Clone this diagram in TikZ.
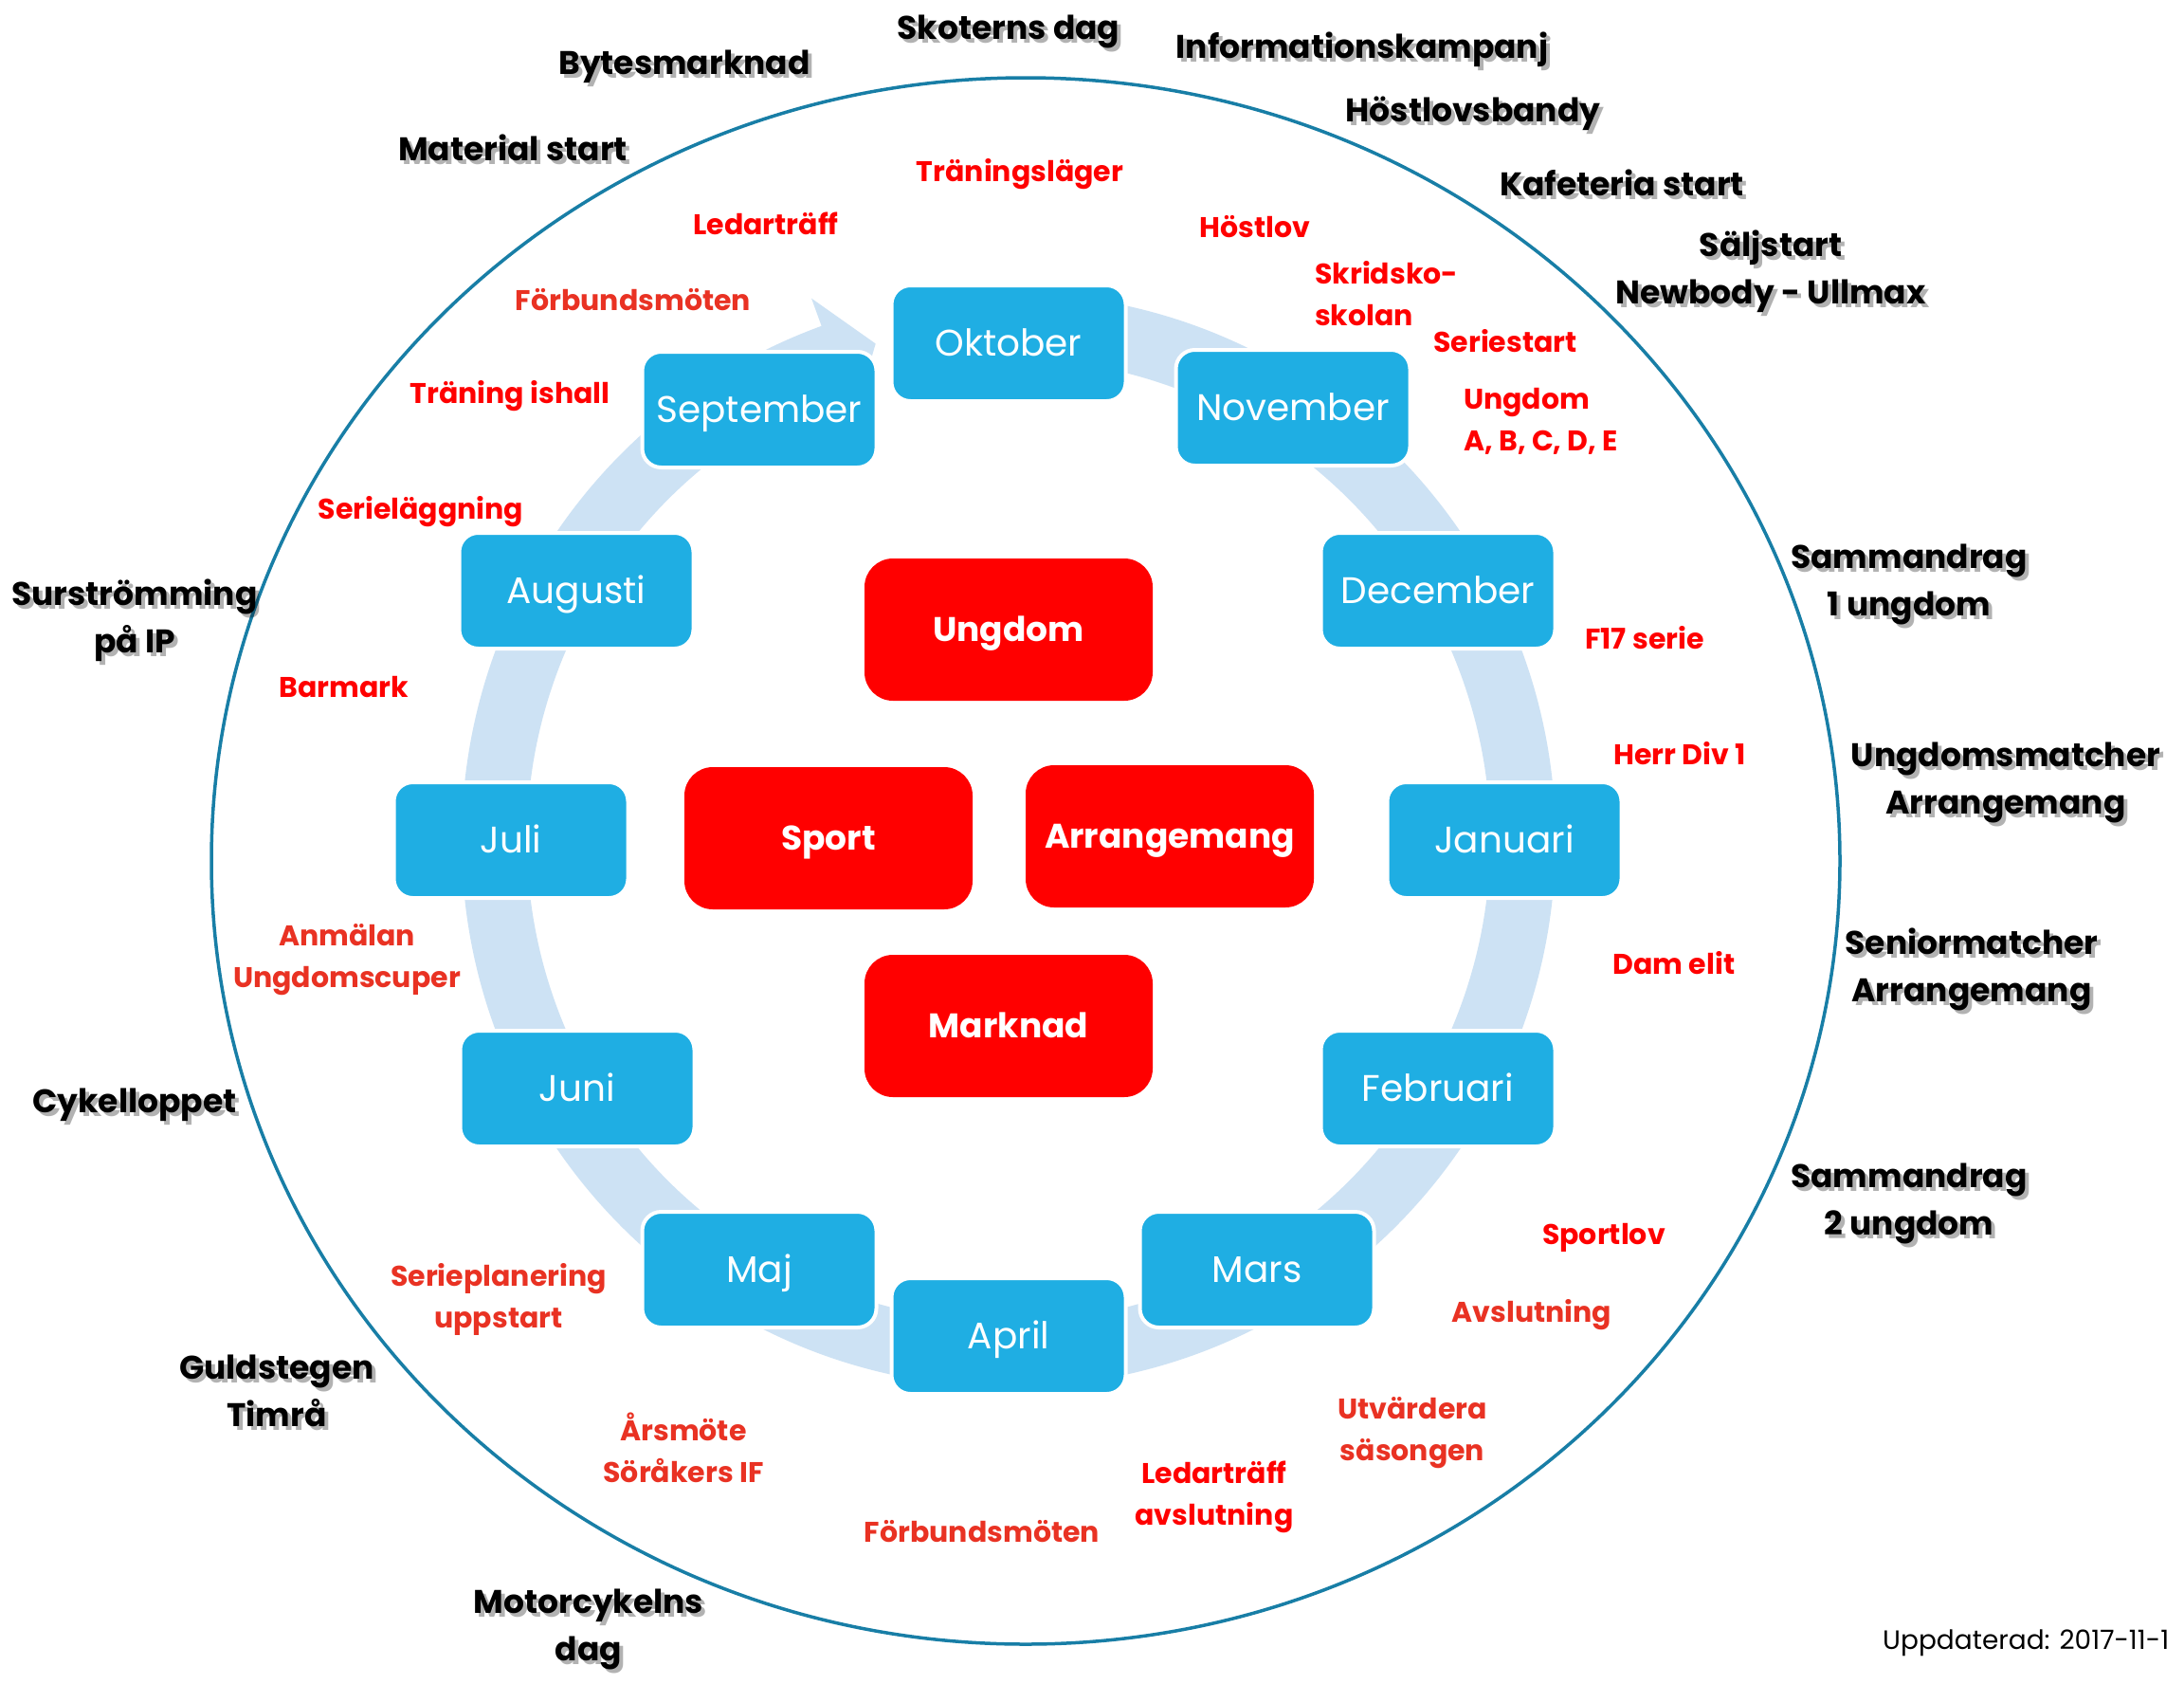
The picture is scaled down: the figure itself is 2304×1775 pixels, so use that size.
\documentclass[tikz,border=0pt]{standalone}
\usepackage{fontspec}
\setmainfont{Poppins}
\definecolor{mblue}{RGB}{31,174,227}
\definecolor{ringc}{RGB}{205,226,244}
\definecolor{ecol}{RGB}{24,126,166}
\definecolor{ored}{RGB}{233,50,35}
\definecolor{pred}{RGB}{255,0,0}
\newcommand\blabel[3]{%
  \node[blab,shad] at (#2) {#3};
  \node[blab] (#1) at (#2) {#3};}
\begin{document}
\begin{tikzpicture}[x=1pt,y=-1pt,
  month/.style={fill=mblue, draw=white, line width=4pt, rounded corners=20pt,
    minimum width=247pt, minimum height=122pt, inner sep=0pt, text=white,
    text height=27pt, text depth=0pt,
    font=\fontsize{39}{46}\selectfont},
  cat/.style={fill=pred, rounded corners=30pt, minimum width=304pt,
    minimum height=150pt, inner sep=0pt, text=white,
    text height=25pt, text depth=0pt,
    font=\fontsize{36}{42}\selectfont\bfseries},
  blab/.style={font=\fontsize{34.5}{50}\selectfont\bfseries, align=center, text=black, inner sep=0pt},
  shad/.style={text=black, opacity=0.3, xshift=4pt, yshift=-4pt},
  rlab/.style={font=\fontsize{30}{44}\selectfont\bfseries, align=center, text=pred, inner sep=0pt},
  olab/.style={rlab, text=ored},
]
\useasboundingbox (0,0) rectangle (2304,1775);
\fill[white] (0,0) rectangle (2304,1775);

% outer ellipse
\draw[ecol, line width=3.5pt] (1082,908) ellipse [x radius=859, y radius=826];

% cycle ring with arrow head
\begin{scope}[shift={(1064,886)}]
\fill[ringc] (-88:577) arc[start angle=-88, end angle=250, radius=577]
  -- (250:608) -- (255:542) -- (250:476) -- (250:508)
  arc[start angle=250, end angle=-88, radius=508] -- cycle;
\end{scope}

% months
\node[month] (okt) at (1064,362) {Oktober};
\node[month] (sep) at (801,432) {September};
\node[month] (nov) at (1364,430) {November};
\node[month] (aug) at (608,623) {Augusti};
\node[month] (dec) at (1517,623) {December};
\node[month] (jul) at (539,886) {Juli};
\node[month] (jan) at (1587,886) {Januari};
\node[month] (jun) at (609,1148) {Juni};
\node[month] (feb) at (1517,1148) {Februari};
\node[month] (maj) at (801,1339) {Maj};
\node[month] (mar) at (1326,1339) {Mars};
\node[month] (apr) at (1064,1409) {April};

% categories
\node[cat] (ungdom) at (1064,664) {Ungdom};
\node[cat] (sport) at (874,884) {Sport};
\node[cat] (arr) at (1234,882) {Arrangemang};
\node[cat] (mark) at (1064,1082) {Marknad};

% black outer labels
\blabel{skoter}{1064,33}{Skoterns dag}
\blabel{info}{1437,52}{Informationskampanj}
\blabel{byte}{722,70}{Bytesmarknad}
\blabel{hbandy}{1554,120}{Höstlovsbandy}
\blabel{matstart}{541,156}{Material start}
\blabel{kafe}{1711,193}{Kafeteria start}
\blabel{salj}{1868,261}{Säljstart}
\blabel{newbody}{1868,312}{Newbody - Ullmax}
\blabel{samm1}{2014,616}{Sammandrag\\1 ungdom}
\blabel{ungm}{2116,825}{Ungdomsmatcher\\Arrangemang}
\blabel{senm}{2080,1022}{Seniormatcher\\Arrangemang}
\blabel{samm2}{2014,1269}{Sammandrag\\2 ungdom}
\blabel{surs}{142,654}{Surströmming\\på IP}
\blabel{cykel}{142,1165}{Cykelloppet}
\blabel{guld}{292,1467}{Guldstegen\\Timrå}
\blabel{motor}{621,1718}{Motorcykelns\\dag}

% red inner labels
\node[rlab] (tlager) at (1076,184) {Träningsläger};
\node[rlab] (ledar1) at (808,236) {Ledarträff};
\node[rlab] (hlov) at (1324,239) {Höstlov};
\node[rlab, anchor=west, align=left] (skrid) at (1387,310) {Skridsko-\\skolan};
\node[olab] (forb1) at (668,316) {Förbundsmöten};
\node[rlab] (seriest) at (1588,360) {Seriestart};
\node[rlab] (tish) at (538,418) {Träning ishall};
\node[rlab, anchor=west, align=left] (ungabc) at (1544,444) {Ungdom\\A, B, C, D, E};
\node[rlab] (serlagg) at (444,540) {Serieläggning};
\node[rlab] (f17) at (1735,673) {F17 serie};
\node[rlab] (barmark) at (363,725) {Barmark};
\node[rlab] (herr) at (1772,795) {Herr Div 1};
\node[olab] (anm) at (366,1012) {Anmälan\\Ungdomscuper};
\node[rlab] (dam) at (1766,1016) {Dam elit};
\node[rlab] (sportlov) at (1692,1305) {Sportlov};
\node[olab] (serplan) at (526,1370) {Serieplanering\\uppstart};
\node[olab] (avsl) at (1616,1387) {Avslutning};
\node[olab] (utv) at (1490,1511) {Utvärdera\\säsongen};
\node[olab] (arsm) at (721,1527) {Årsmöte\\Söråkers IF};
\node[rlab] (ledar2) at (1281,1579) {Ledarträff\\avslutning};
\node[olab] (forb2) at (1036,1615) {Förbundsmöten};

% footer
\node[anchor=west, inner sep=0pt, font=\fontsize{28}{34}\selectfont] (upd) at (1986,1733) {Uppdaterad: 2017-11-1};
\end{tikzpicture}
\end{document}
